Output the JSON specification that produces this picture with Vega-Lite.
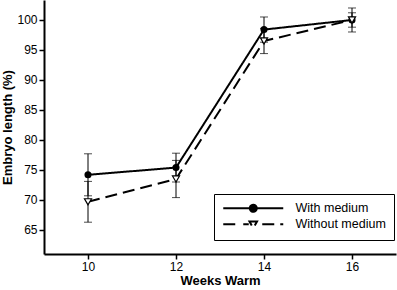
{
  "$schema": "https://vega.github.io/schema/vega-lite/v6.json",
  "width": 352,
  "height": 254,
  "autosize": {"type": "none"},
  "padding": {"left": 44, "top": 0, "right": 1, "bottom": 36},
  "background": "white",
  "config": {
    "view": {"stroke": null},
    "font": "Liberation Sans",
    "axis": {
      "grid": false,
      "domainColor": "black",
      "domainWidth": 2,
      "tickColor": "black",
      "tickWidth": 1.5,
      "tickSize": 5,
      "labelColor": "black",
      "labelFont": "Liberation Sans",
      "labelFontSize": 12,
      "labelPadding": 2,
      "labelOverlap": false,
      "titleColor": "black",
      "titleFont": "Liberation Sans",
      "titleFontSize": 13,
      "titleFontWeight": "bold"
    },
    "axisY": {"titlePadding": 2}
  },
  "data": {
    "values": [
      {"weeks": 10, "series": "With medium", "length": 74.2, "lo": 70.7, "hi": 77.7},
      {"weeks": 12, "series": "With medium", "length": 75.4, "lo": 73.0, "hi": 77.8},
      {"weeks": 14, "series": "With medium", "length": 98.4, "lo": 96.3, "hi": 100.5},
      {"weeks": 16, "series": "With medium", "length": 100.0, "lo": 98.8, "hi": 101.2},
      {"weeks": 10, "series": "Without medium", "length": 69.7, "lo": 66.3, "hi": 73.1},
      {"weeks": 12, "series": "Without medium", "length": 73.5, "lo": 70.4, "hi": 76.6},
      {"weeks": 14, "series": "Without medium", "length": 96.5, "lo": 94.4, "hi": 98.6},
      {"weeks": 16, "series": "Without medium", "length": 100.0, "lo": 98.0, "hi": 102.0}
    ]
  },
  "encoding": {
    "x": {
      "field": "weeks",
      "type": "quantitative",
      "scale": {"domain": [9, 17], "nice": false, "zero": false},
      "axis": {"values": [10, 12, 14, 16], "title": "Weeks Warm", "titlePadding": 2}
    }
  },
  "layer": [
    {
      "mark": {"type": "line", "color": "black", "strokeWidth": 2},
      "encoding": {
        "y": {
          "field": "length",
          "type": "quantitative",
          "scale": {"domain": [61, 103.33], "nice": false, "zero": false},
          "axis": {"values": [65, 70, 75, 80, 85, 90, 95, 100], "labelOverlap": false, "title": "Embryo length (%)"}
        },
        "strokeDash": {
          "field": "series",
          "type": "nominal",
          "scale": {"domain": ["With medium", "Without medium"], "range": [[1, 0], [12, 6]]},
          "legend": {
            "title": null,
            "orient": "none",
            "legendX": 170,
            "legendY": 194,
            "strokeColor": "black",
            "padding": 8,
            "symbolSize": 100,
            "symbolOffset": 25,
            "labelOffset": 36,
            "rowPadding": 1,
            "symbolType": {"expr": "datum.value === 'With medium' ? 'M-6,0H6M-0.7,0A0.7,0.7,0,1,0,0.7,0A0.7,0.7,0,1,0,-0.7,0Z' : 'M-6,0H-3.4M-2,0H-0.9M-0.75,-0.55L0.75,-0.55L0,0.75ZM1.8,0H6'"},
            "symbolFillColor": {"expr": "datum.value === 'With medium' ? 'black' : 'white'"},
            "symbolStrokeColor": "black",
            "symbolStrokeWidth": 2,
            "symbolOpacity": 1,
            "labelFont": "Liberation Sans",
            "labelFontSize": 12.5,
            "labelColor": "black"
          }
        },
        "detail": {"field": "series"}
      }
    },
    {
      "mark": {"type": "rule", "color": "black", "strokeWidth": 1},
      "encoding": {
        "y": {"field": "lo", "type": "quantitative", "axis": {"values": [65, 70, 75, 80, 85, 90, 95, 100], "labelOverlap": false, "title": "Embryo length (%)"}},
        "y2": {"field": "hi"}
      }
    },
    {
      "mark": {"type": "tick", "orient": "horizontal", "color": "black", "size": 8, "thickness": 1},
      "encoding": {"y": {"field": "lo", "type": "quantitative", "axis": {"values": [65, 70, 75, 80, 85, 90, 95, 100], "labelOverlap": false, "title": "Embryo length (%)"}}}
    },
    {
      "mark": {"type": "tick", "orient": "horizontal", "color": "black", "size": 8, "thickness": 1},
      "encoding": {"y": {"field": "hi", "type": "quantitative", "axis": {"values": [65, 70, 75, 80, 85, 90, 95, 100], "labelOverlap": false, "title": "Embryo length (%)"}}}
    },
    {
      "transform": [{"filter": "datum.series === 'With medium'"}],
      "mark": {"type": "point", "shape": "circle", "filled": true, "color": "black", "opacity": 1, "size": 50},
      "encoding": {"y": {"field": "length", "type": "quantitative", "axis": {"values": [65, 70, 75, 80, 85, 90, 95, 100], "labelOverlap": false, "title": "Embryo length (%)"}}}
    },
    {
      "transform": [{"filter": "datum.series === 'Without medium'"}],
      "mark": {"type": "point", "shape": "triangle-down", "fill": "white", "stroke": "black", "strokeWidth": 1.2, "opacity": 1, "size": 50},
      "encoding": {"y": {"field": "length", "type": "quantitative", "axis": {"values": [65, 70, 75, 80, 85, 90, 95, 100], "labelOverlap": false, "title": "Embryo length (%)"}}}
    }
  ]
}
